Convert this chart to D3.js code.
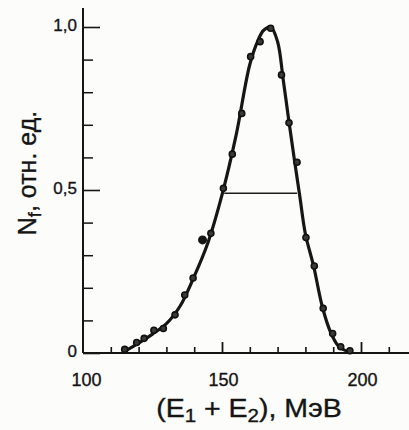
<!DOCTYPE html>
<html>
<head>
<meta charset="utf-8">
<script src="https://cdn.jsdelivr.net/npm/d3@7"></script>
<style>
  body { margin: 0; background: #fcfcfa; }
  svg { display: block; font-family: "Liberation Sans", Arial, sans-serif; }
  .axis path, .axis line { stroke: #151515; }
  .axis text, .title { fill: #151515; stroke: #151515; stroke-width: 0.35px; }
</style>
</head>
<body>
<div id="chart"></div>
<script>
// measured points (E1+E2, MeV ; Nf, rel. units)
const pointE = [115.0, 119.3, 122.0, 125.5, 128.9, 133.1, 136.6, 139.6, 146.0, 150.5,
                153.7, 157.1, 160.3, 163.7, 167.5, 171.4, 174.1, 177.0, 180.2, 183.2,
                186.4, 189.8, 192.7, 196.0];
const pointN = [0.011, 0.032, 0.045, 0.070, 0.075, 0.117, 0.178, 0.230, 0.367, 0.505,
                0.610, 0.735, 0.909, 0.955, 0.996, 0.853, 0.706, 0.585, 0.354, 0.267,
                0.137, 0.060, 0.019, 0.007];
// the one solid dot off the curve
const outlierE = [143.0];
const outlierN = [0.347];

// smooth fitted curve
const curveE = [115, 120, 125, 130, 135, 140, 145, 150, 155, 160, 163, 165, 167.5,
                170, 172, 174, 176, 178, 180, 183, 186, 189, 192, 195];
const curveN = [0.005, 0.03, 0.058, 0.09, 0.145, 0.235, 0.34, 0.485, 0.665, 0.885, 0.96, 0.99, 1.0,
                0.955, 0.84, 0.715, 0.595, 0.48, 0.365, 0.265, 0.145, 0.065, 0.02, 0.005];

// half-maximum marker
const halfE = [150.8, 177.0];
const halfN = 0.49;

const xMajor = [100, 150, 200];
const xMinor = [110, 120, 130, 140, 160, 170, 180, 190, 210];
const yMajor = [0, 0.5, 1.0];
const yMinor = [0.1, 0.2, 0.3, 0.4, 0.6, 0.7, 0.8, 0.9];

const width = 409, height = 430;

const svg = d3.select('#chart').append('svg')
  .attr('width', width)
  .attr('height', height);

const x = d3.scaleLinear().domain([100, 200]).range([83, 361]);
const y = d3.scaleLinear().domain([0, 1]).range([353, 27]);

const fmt = d => d3.format('.1f')(d).replace('.', ',').replace(/^0,0$/, '0');

// x axis: long line, ticks pointing up
svg.append('line')
  .attr('x1', x(100)).attr('x2', width)
  .attr('y1', y(0)).attr('y2', y(0))
  .attr('stroke', '#151515').attr('stroke-width', 2);

svg.append('g')
  .attr('class', 'axis')
  .attr('transform', 'translate(0,' + y(0) + ')')
  .call(d3.axisBottom(x).tickValues(xMinor).tickSize(-6).tickFormat(''))
  .call(g => g.select('.domain').remove())
  .selectAll('line').attr('stroke-width', 1.6);

svg.append('g')
  .attr('class', 'axis')
  .attr('transform', 'translate(0,' + y(0) + ')')
  .call(d3.axisBottom(x).tickValues(xMajor).tickSize(-11).tickPadding(20))
  .call(g => g.select('.domain').remove())
  .call(g => g.selectAll('.tick line').filter(d => d === 100).remove())
  .call(g => g.selectAll('text').attr('font-size', 18).attr('dx', d => d === 100 ? 3 : 1))
  .selectAll('line').attr('stroke-width', 1.8);

// y axis: ticks pointing right
svg.append('line')
  .attr('x1', x(100)).attr('x2', x(100))
  .attr('y1', y(0)).attr('y2', 8)
  .attr('stroke', '#151515').attr('stroke-width', 2);

svg.append('g')
  .attr('class', 'axis')
  .attr('transform', 'translate(' + x(100) + ',0)')
  .call(d3.axisLeft(y).tickValues(yMinor).tickSize(-10).tickFormat(''))
  .call(g => g.select('.domain').remove())
  .selectAll('line').attr('stroke-width', 1.5);

svg.append('g')
  .attr('class', 'axis')
  .attr('transform', 'translate(' + x(100) + ',0)')
  .call(d3.axisLeft(y).tickValues(yMajor).tickSize(-17).tickPadding(6).tickFormat(fmt))
  .call(g => g.select('.domain').remove())
  .call(g => g.selectAll('text').attr('font-size', 17).attr('dy', '0.2em'))
  .selectAll('line').attr('stroke-width', 1.6);

// axis titles
const xTitle = svg.append('text')
  .attr('class', 'title')
  .attr('transform', 'translate(249,417) scale(1.14,1)')
  .attr('text-anchor', 'middle')
  .attr('font-size', 25);
xTitle.append('tspan').text('(E');
xTitle.append('tspan').attr('font-size', 18).attr('dy', 5).text('1');
xTitle.append('tspan').attr('dy', -5).text(' + E');
xTitle.append('tspan').attr('font-size', 18).attr('dy', 5).text('2');
xTitle.append('tspan').attr('dy', -5).text('), МэВ');

const yTitle = svg.append('text')
  .attr('class', 'title')
  .attr('transform', 'translate(36,173) rotate(-90)')
  .attr('text-anchor', 'middle')
  .attr('font-size', 25);
yTitle.append('tspan').text('N');
yTitle.append('tspan').attr('font-size', 18).attr('dy', 5).text('f');
yTitle.append('tspan').attr('dy', -5).text(', отн. ед.');

// curve
const curve = curveE.map((e, i) => ({ e: e, n: curveN[i] }));
const line = d3.line()
  .x(d => x(d.e))
  .y(d => y(d.n))
  .curve(d3.curveCatmullRom.alpha(0.5));

svg.append('path')
  .attr('d', line(curve))
  .attr('fill', 'none')
  .attr('stroke', '#161616')
  .attr('stroke-width', 3.2)
  .attr('stroke-linejoin', 'round')
  .attr('stroke-linecap', 'round');

// FWHM line
svg.append('line')
  .attr('x1', x(halfE[0])).attr('x2', x(halfE[1]))
  .attr('y1', y(halfN)).attr('y2', y(halfN))
  .attr('stroke', '#1c1c1c')
  .attr('stroke-width', 1.5);

// points
const points = pointE.map((e, i) => ({ e: e, n: pointN[i] }));
svg.append('g')
  .selectAll('circle')
  .data(points)
  .enter()
  .append('circle')
  .attr('cx', d => x(d.e))
  .attr('cy', d => y(d.n))
  .attr('r', 3)
  .attr('fill', '#3a3a3a')
  .attr('stroke', '#111')
  .attr('stroke-width', 1.6);

svg.append('g')
  .selectAll('circle')
  .data(outlierE.map((e, i) => ({ e: e, n: outlierN[i] })))
  .enter()
  .append('circle')
  .attr('cx', d => x(d.e))
  .attr('cy', d => y(d.n))
  .attr('r', 4.5)
  .attr('fill', '#151515');
</script>
</body>
</html>
